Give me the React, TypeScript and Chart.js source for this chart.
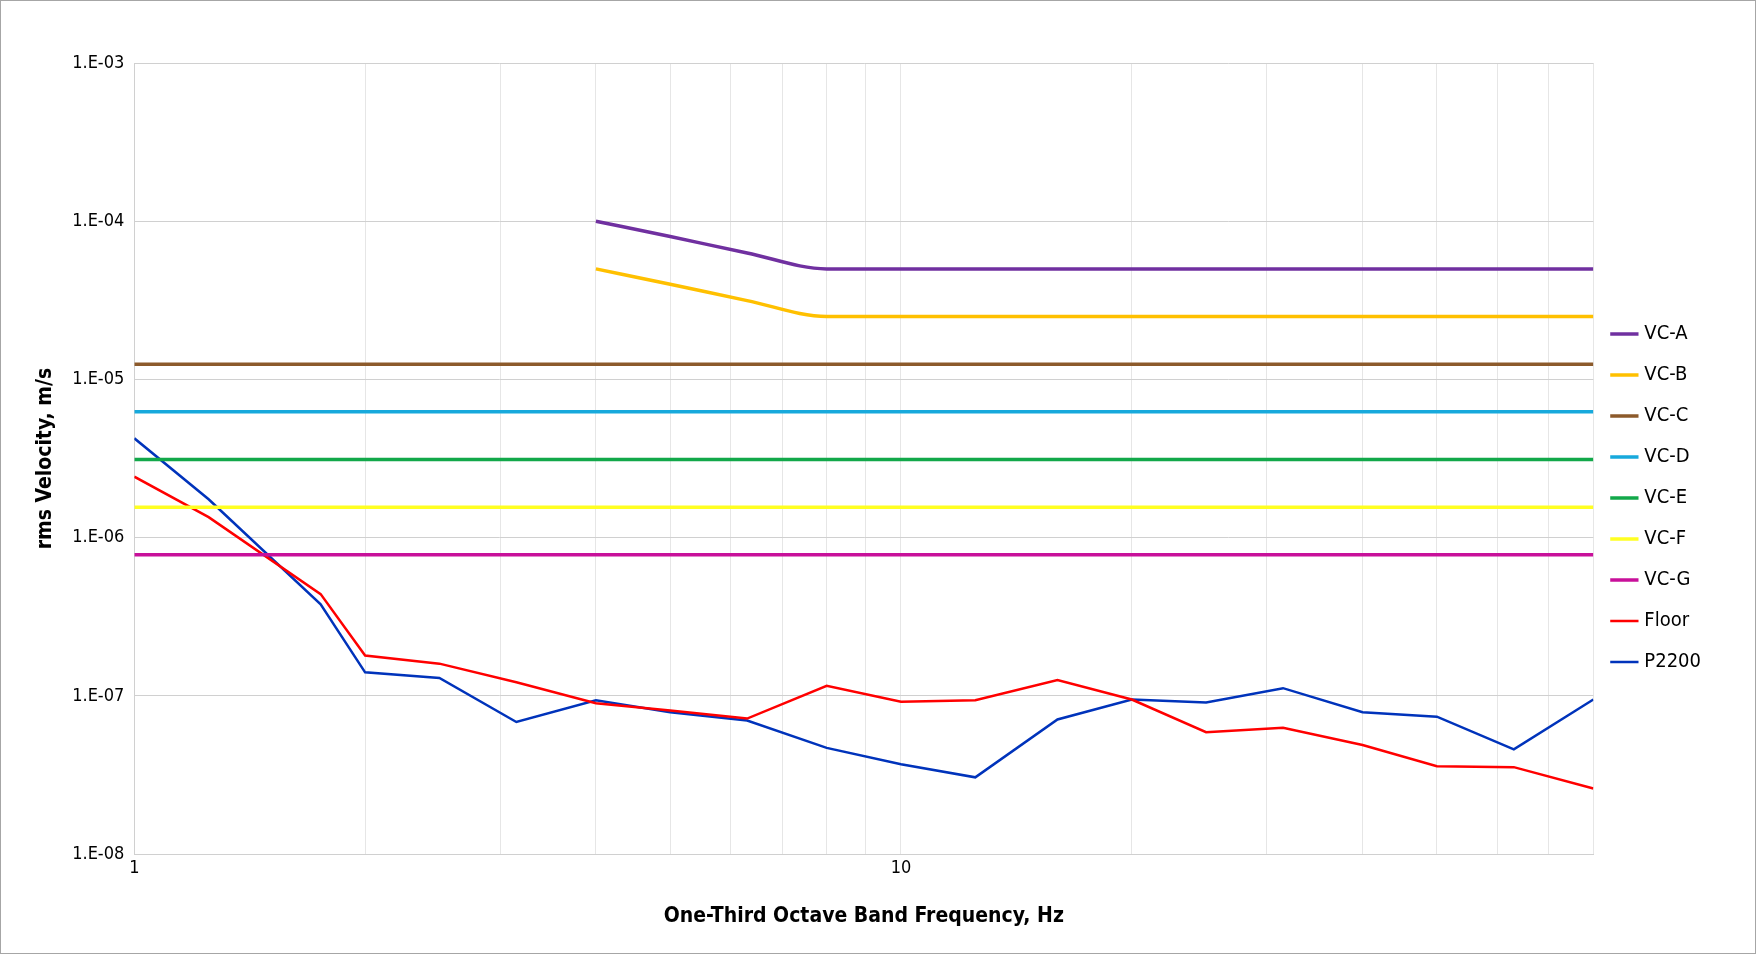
import React, { useEffect, useRef } from "react";
import { Chart, registerables } from "chart.js";
Chart.register(...registerables);

const freqs = [1, 1.25, 1.75, 2, 2.5, 3.15, 4, 5, 6.3, 8, 10, 12.5, 16, 20, 25, 31.5, 40, 50, 63, 80];
const floorVals = [2.43e-6, 1.35e-6, 4.4e-7, 1.8e-7, 1.6e-7, 1.22e-7, 9e-8, 8.1e-8, 7.2e-8, 1.16e-7, 9.2e-8, 9.4e-8, 1.26e-7, 9.5e-8, 5.9e-8, 6.3e-8, 4.9e-8, 3.6e-8, 3.55e-8, 2.6e-8];
const p2200Vals = [4.25e-6, 1.75e-6, 3.8e-7, 1.41e-7, 1.3e-7, 6.85e-8, 9.4e-8, 7.9e-8, 7e-8, 4.7e-8, 3.7e-8, 3.06e-8, 7.1e-8, 9.5e-8, 9.1e-8, 1.12e-7, 7.9e-8, 7.4e-8, 4.6e-8, 9.5e-8];
const vcFreqs = [4, 5, 6.3, 8, 10, 12.5, 16, 20, 25, 31.5, 40, 50, 63, 80];
const vcAVals = [1e-4, 8e-5, 6.3e-5, 5e-5, 5e-5, 5e-5, 5e-5, 5e-5, 5e-5, 5e-5, 5e-5, 5e-5, 5e-5, 5e-5];
const vcBVals = [5e-5, 4e-5, 3.15e-5, 2.5e-5, 2.5e-5, 2.5e-5, 2.5e-5, 2.5e-5, 2.5e-5, 2.5e-5, 2.5e-5, 2.5e-5, 2.5e-5, 2.5e-5];
const flatNames = ["VC-C", "VC-D", "VC-E", "VC-F", "VC-G"];
const flatVals = [1.25e-5, 6.25e-6, 3.12e-6, 1.56e-6, 7.8e-7];
const flatColors = ["#8c5a2b", "#17a9dc", "#12a84a", "#ffff22", "#c8109a"];
const xTicks = [1, 2, 3, 4, 5, 6, 7, 8, 9, 10, 20, 30, 40, 50, 60, 70, 80];
const yTicks = [1e-8, 1e-7, 1e-6, 1e-5, 1e-4, 1e-3];

const FONT = "'Liberation Sans Narrow', 'DejaVu Sans Condensed', 'Liberation Sans', sans-serif";

export default function App() {
  const ref = useRef<HTMLCanvasElement>(null);
  useEffect(() => {
    const pts = (xs: number[], ys: number[]) => xs.map((x, i) => ({ x, y: ys[i] }));
    const ds: any[] = [
      { label: "VC-A", data: pts(vcFreqs, vcAVals), borderColor: "#7030a0", borderWidth: 3.5, tension: 0.4, cubicInterpolationMode: "monotone" },
      { label: "VC-B", data: pts(vcFreqs, vcBVals), borderColor: "#ffc000", borderWidth: 3.5, tension: 0.4, cubicInterpolationMode: "monotone" },
      ...flatNames.map((n, i) => ({ label: n, data: [{ x: 1, y: flatVals[i] }, { x: 80, y: flatVals[i] }], borderColor: flatColors[i], borderWidth: 3.5 })),
      { label: "Floor", data: pts(freqs, floorVals), borderColor: "#ff0000", borderWidth: 2.5 },
      { label: "P2200", data: pts(freqs, p2200Vals), borderColor: "#0033bb", borderWidth: 2.5 },
    ];
    ds.forEach((d) => { d.pointRadius = 0; d.backgroundColor = d.borderColor; d.fill = false; });
    const chart = new Chart(ref.current!, {
      type: "line",
      data: { datasets: ds },
      options: {
        animation: false,
        responsive: false,
        layout: { padding: { top: 62, right: 44, bottom: 20, left: 28 } },
        plugins: {
          tooltip: { enabled: false },
          legend: {
            position: "right",
            labels: { usePointStyle: true, pointStyle: "line", boxWidth: 40, padding: 21, color: "#000", font: { family: FONT, size: 20 } },
          },
        },
        scales: {
          x: {
            type: "logarithmic", min: 1, max: 80,
            afterBuildTicks: (ax: any) => { ax.ticks = xTicks.map((v) => ({ value: v })); },
            ticks: { autoSkip: false, maxRotation: 0, color: "#000", font: { family: FONT, size: 18 }, callback: (v: any) => (v === 1 || v === 10 ? String(v) : "") },
            grid: { color: "#e6e6e6", drawTicks: false },
            border: { color: "#d0d0d0" },
            title: { display: true, text: "One-Third Octave Band Frequency, Hz", color: "#000", font: { family: FONT, size: 21, weight: "bold" }, padding: { top: 22 } },
          },
          y: {
            type: "logarithmic", min: 1e-8, max: 1e-3,
            afterBuildTicks: (ax: any) => { ax.ticks = yTicks.map((v) => ({ value: v })); },
            ticks: { color: "#000", padding: 10, font: { family: FONT, size: 18 }, callback: (v: any) => "1.E" + (Math.round(Math.log10(v)) < 0 ? "-" : "+") + String(Math.abs(Math.round(Math.log10(v)))).padStart(2, "0") },
            grid: { color: "#d0d0d0", drawTicks: false },
            border: { color: "#d0d0d0" },
            title: { display: true, text: "rms Velocity, m/s", color: "#000", font: { family: FONT, size: 21, weight: "bold" } },
          },
        },
      } as any,
    });
    return () => chart.destroy();
  }, []);
  return (
    <div style={{ position: "absolute", left: 0, top: 0, width: 1756, height: 954, background: "#fff", boxSizing: "border-box", border: "1px solid #a6a6a6" }}>
      <canvas ref={ref} width={1754} height={952} style={{ width: 1754, height: 952 }} />
    </div>
  );
}
